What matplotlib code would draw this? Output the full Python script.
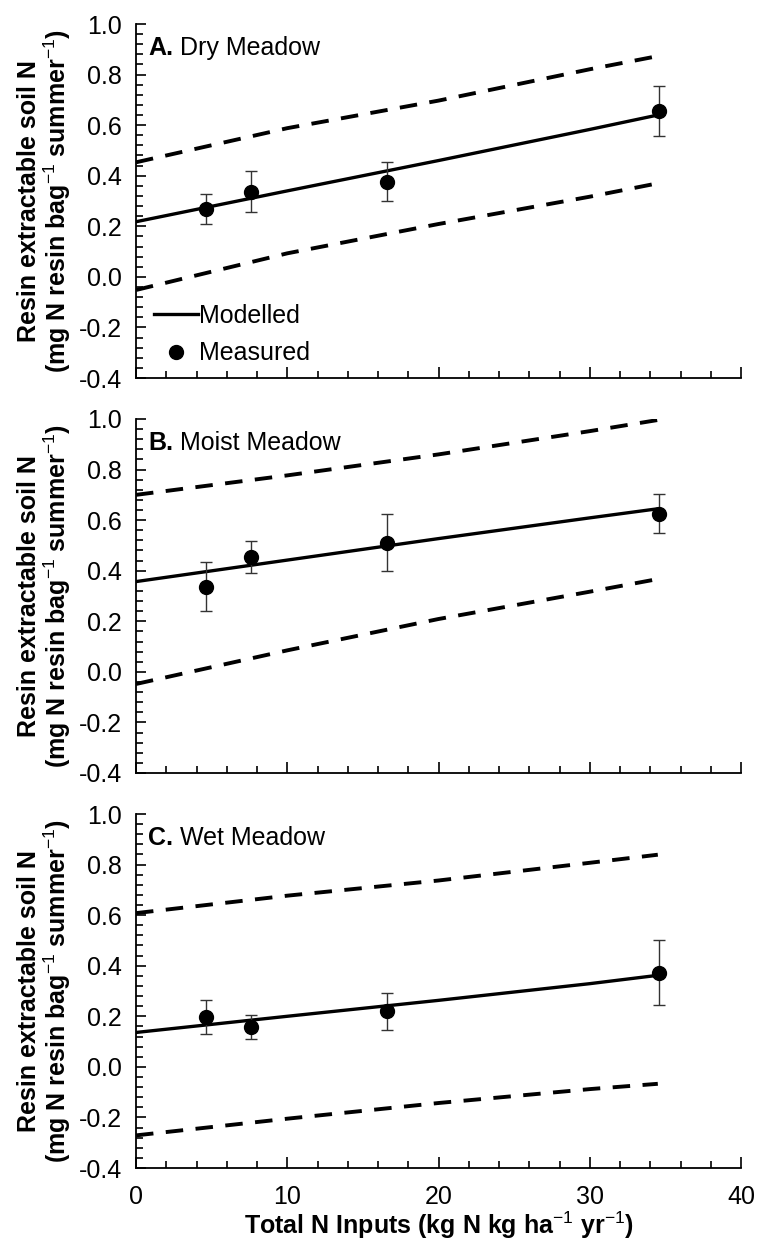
import matplotlib
matplotlib.use('Agg')
import matplotlib.pyplot as plt
from matplotlib.ticker import MultipleLocator, FormatStrFormatter

plt.rcParams['font.family'] = ['Liberation Sans', 'DejaVu Sans']
plt.rcParams['mathtext.fontset'] = 'custom'
plt.rcParams['mathtext.rm'] = 'Liberation Sans'
plt.rcParams['mathtext.bf'] = 'Liberation Sans:bold'

# measured points (x = total N inputs)
meas_x = [4.6, 7.6, 16.6, 34.6]

dry_meas = [0.268, 0.337, 0.376, 0.656]
dry_err = [0.060, 0.081, 0.077, 0.097]
moist_meas = [0.337, 0.453, 0.511, 0.626]
moist_err = [0.096, 0.064, 0.114, 0.076]
wet_meas = [0.197, 0.157, 0.219, 0.372]
wet_err = [0.068, 0.048, 0.072, 0.128]

# model output
model_x = [0, 10, 20, 30, 34.5]

dry_model = [0.218, 0.340, 0.460, 0.583, 0.640]
dry_upper = [0.453, 0.588, 0.697, 0.821, 0.873]
dry_lower = [-0.052, 0.093, 0.209, 0.317, 0.370]

moist_model = [0.357, 0.442, 0.527, 0.609, 0.645]
moist_upper = [0.700, 0.777, 0.860, 0.952, 0.996]
moist_lower = [-0.048, 0.085, 0.209, 0.317, 0.367]

wet_model = [0.136, 0.200, 0.263, 0.329, 0.362]
wet_upper = [0.608, 0.677, 0.737, 0.807, 0.839]
wet_lower = [-0.271, -0.205, -0.143, -0.088, -0.067]

panels = [
    ("A.", " Dry Meadow", dry_meas, dry_err, dry_model, dry_upper, dry_lower),
    ("B.", " Moist Meadow", moist_meas, moist_err, moist_model, moist_upper, moist_lower),
    ("C.", " Wet Meadow", wet_meas, wet_err, wet_model, wet_upper, wet_lower),
]

W, H = 758, 1241
fig = plt.figure(figsize=(W / 100, H / 100), dpi=100)

left = 136 / W
width = (741 - 136) / W
tops = [24, 419, 814]
ph = 354
fs = 18

ylab = "Resin extractable soil N\n(mg N resin bag$^{-1}$ summer$^{-1}$)"

for i, (tag, name, meas, err, model, upper, lower) in enumerate(panels):
    top = tops[i]
    ax = fig.add_axes([left, 1 - (top + ph) / H, width, ph / H])

    ax.plot(model_x, upper, color='black', lw=2.8, ls=(0, (4.5, 3.2)))
    ax.plot(model_x, lower, color='black', lw=2.8, ls=(0, (4.5, 3.2)))
    ax.plot(model_x, model, color='black', lw=2.4, label='Modelled')
    ax.errorbar(meas_x, meas, yerr=err, fmt='none', ecolor='#333333',
                elinewidth=1, capsize=4.5, capthick=1)
    ax.plot(meas_x, meas, 'o', color='black', ms=10, ls='none', label='Measured')

    ax.set_xlim(0, 40)
    ax.set_ylim(-0.4, 1.0)
    ax.xaxis.set_major_locator(MultipleLocator(10))
    ax.xaxis.set_minor_locator(MultipleLocator(2))
    ax.yaxis.set_major_locator(MultipleLocator(0.2))
    ax.yaxis.set_minor_locator(MultipleLocator(0.04))
    ax.yaxis.set_major_formatter(FormatStrFormatter('%.1f'))

    for s in ['top', 'right']:
        ax.spines[s].set_visible(False)
    for s in ['left', 'bottom']:
        ax.spines[s].set_linewidth(1.3)

    ax.tick_params(which='both', direction='in', labelsize=fs, width=1.2)
    ax.tick_params(axis='y', which='major', length=7, pad=10)
    ax.tick_params(axis='y', which='minor', length=5)
    ax.tick_params(axis='x', which='major', length=8, pad=12)
    ax.tick_params(axis='x', which='minor', length=5)
    if i < 2:
        ax.tick_params(axis='x', labelbottom=False)

    ax.set_ylabel(ylab, fontsize=fs, fontweight='bold', labelpad=4, linespacing=1.05)

    t1 = ax.text(0.02, 0.965, tag, transform=ax.transAxes, fontsize=fs,
                 fontweight='bold', va='top', ha='left')
    fig.canvas.draw()
    bb = t1.get_window_extent()
    x1 = ax.transAxes.inverted().transform((bb.x1, bb.y1))[0]
    ax.text(x1, 0.965, name, transform=ax.transAxes, fontsize=fs,
            va='top', ha='left')

    if i == 0:
        ax.legend(loc='lower left', frameon=False, fontsize=fs,
                  handlelength=1.75, handletextpad=0.05, labelspacing=0.55,
                  borderaxespad=0.1, bbox_to_anchor=(0.009, 0.0))

    if i == 2:
        ax.set_xlabel("Total N Inputs (kg N kg ha$^{-1}$ yr$^{-1}$)",
                      fontsize=fs, fontweight='bold', labelpad=1)

fig.savefig('out.png', dpi=100)
